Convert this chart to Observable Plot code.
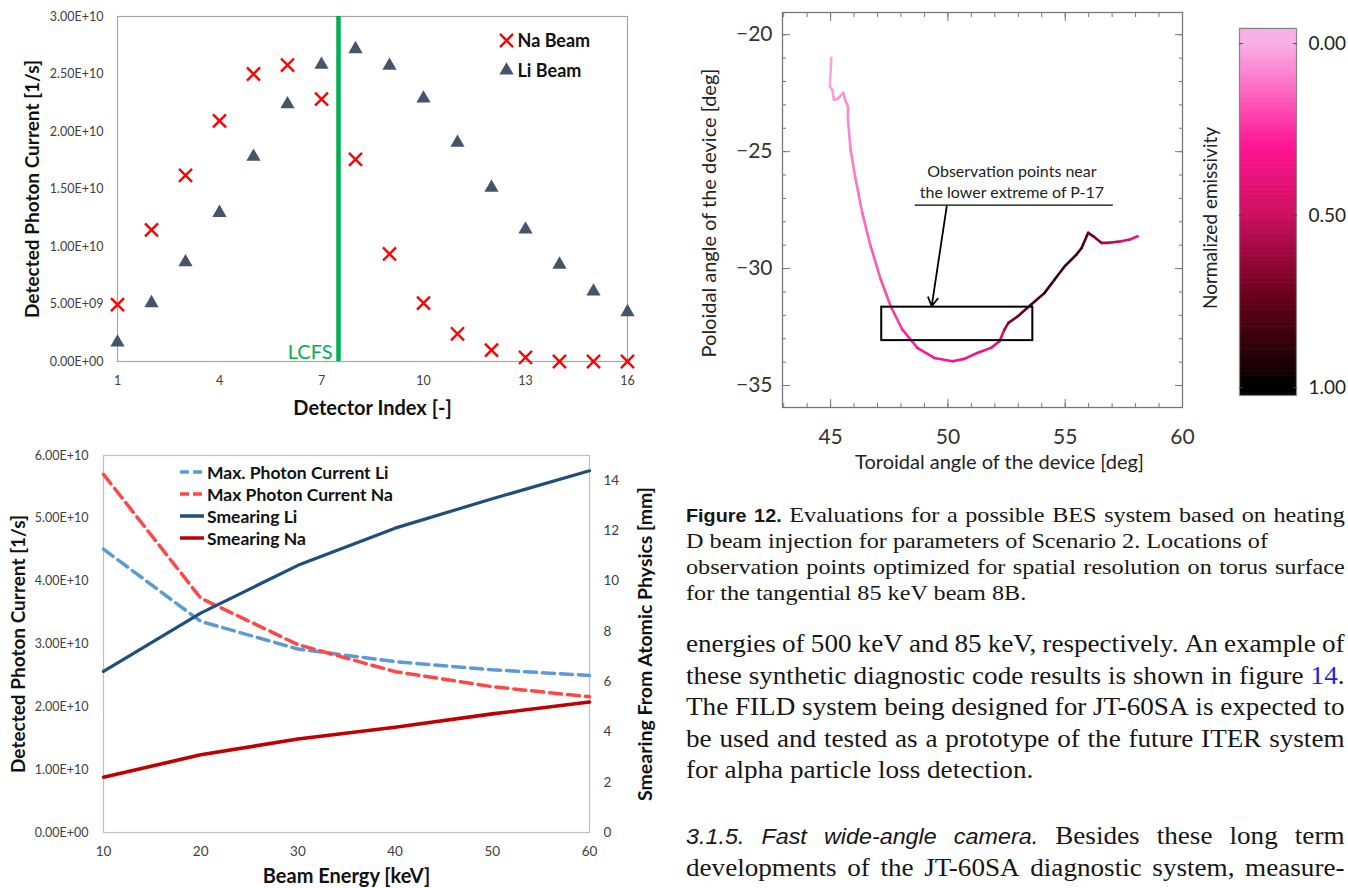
<!DOCTYPE html>
<html>
<head>
<meta charset="utf-8">
<script src="https://cdn.jsdelivr.net/npm/d3@7"></script>
<script src="https://cdn.jsdelivr.net/npm/@observablehq/plot@0.6"></script>
<style>
html,body{margin:0;padding:0;background:#fff;}
body{width:1348px;height:888px;position:relative;overflow:hidden;}
.pane{position:absolute;}
.pane svg{overflow:visible;}
.line{position:absolute;left:686px;white-space:nowrap;font-family:"Liberation Serif","Times New Roman",serif;color:#161616;transform-origin:0 50%;}
.line.j{display:flex;justify-content:space-between;}
.cap{font-size:22px;line-height:26px;height:26px;width:599px;transform:scaleX(1.1);}
.bod{font-size:25px;line-height:32px;height:32px;width:607px;transform:scaleX(1.085);}
.fig{font-family:"Liberation Sans",Arial,sans-serif;font-weight:bold;font-size:18px;}
.sec{font-family:"Liberation Sans",Arial,sans-serif;font-style:italic;font-size:21.5px;}
.ref{color:#1f1fe0;}
.lg{position:absolute;left:180px;height:22px;display:flex;align-items:center;font-family:Lato,sans-serif;font-weight:bold;font-size:17.5px;color:#111;}
.lg svg{margin-right:3px;}
</style>
</head>
<body>
<div id="c1" class="pane" style="left:0;top:0"></div>
<div id="c2" class="pane" style="left:0;top:440px"></div>
<div id="c3" class="pane" style="left:680px;top:0"></div>
<div id="c4" class="pane" style="left:1180px;top:0"></div>
<div id="legend2"></div>
<div id="text"></div>
<script>
// ---------- Chart 1: detected photon current per detector ----------
const detectorIndex = [1, 2, 3, 4, 5, 6, 7, 8, 9, 10, 11, 12, 13, 14, 15, 16];
const naBeam = [4.94e9, 11.45e9, 16.19e9, 20.92e9, 25.0e9, 25.78e9, 22.82e9, 17.58e9, 9.35e9, 5.08e9, 2.41e9, 0.99e9, 0.35e9, 0, 0, 0];
const liBeam = [1.66e9, 5.08e9, 8.63e9, 12.93e9, 17.81e9, 22.38e9, 25.81e9, 27.17e9, 25.72e9, 22.87e9, 19.03e9, 15.11e9, 11.48e9, 8.43e9, 6.10e9, 4.30e9];
const detectorTicks = [1, 4, 7, 10, 13, 16];
const photonTicks1 = [0, 5e9, 1e10, 1.5e10, 2e10, 2.5e10, 3e10];
const lcfsPosition = [7.5];
const beamLabels = ["Na Beam", "Li Beam"];

// ---------- Chart 2: beam energy scan ----------
const beamEnergy = [10, 20, 30, 40, 50, 60];
const maxCurrentLi = [4.51e10, 3.36e10, 2.92e10, 2.72e10, 2.59e10, 2.50e10];
const maxCurrentNa = [5.70e10, 3.73e10, 2.99e10, 2.56e10, 2.32e10, 2.16e10];
const smearingLi = [6.41, 8.73, 10.63, 12.11, 13.28, 14.39];
const smearingNa = [2.20, 3.09, 3.72, 4.19, 4.72, 5.19];
const photonTicks2 = [0, 1e10, 2e10, 3e10, 4e10, 5e10, 6e10];
const smearTicks = [0, 2, 4, 6, 8, 10, 12, 14];
const series2 = ["Max. Photon Current Li", "Max Photon Current Na", "Smearing Li", "Smearing Na"];

// ---------- Chart 3: observation points on torus surface ----------
const toroidal = [45.03, 44.97, 45.07, 45.14, 45.29, 45.54, 45.64, 45.74, 45.74, 45.85, 46.07, 46.35, 46.71, 47.14, 47.56, 48.06, 48.70, 49.42, 50.20, 50.70, 51.27, 51.84, 52.20, 52.41, 52.58, 52.98, 53.55, 54.12, 54.55, 54.98, 55.48, 55.70, 55.98, 56.20, 56.54, 56.83, 57.39, 57.75, 58.08];
const poloidal = [-20.99, -22.21, -22.35, -22.78, -22.75, -22.49, -22.85, -23.06, -23.63, -24.91, -26.20, -27.62, -29.05, -30.47, -31.61, -32.61, -33.39, -33.82, -33.96, -33.86, -33.60, -33.39, -33.11, -32.61, -32.32, -32.04, -31.54, -31.04, -30.47, -29.90, -29.40, -29.12, -28.47, -28.62, -28.90, -28.90, -28.83, -28.76, -28.62];
const emissivity = [0.02, 0.03, 0.04, 0.05, 0.05, 0.06, 0.07, 0.07, 0.08, 0.10, 0.12, 0.14, 0.17, 0.20, 0.23, 0.27, 0.30, 0.32, 0.34, 0.35, 0.37, 0.40, 0.45, 0.60, 0.70, 0.75, 0.80, 0.85, 0.88, 0.88, 0.85, 0.80, 0.72, 0.68, 0.60, 0.55, 0.45, 0.38, 0.30];
const toroidalTicks = [45, 50, 55, 60];
const poloidalTicks = [-35, -30, -25, -20];
const emissivityTicks = [0, 0.5, 1];
const noteText = ["Observation points near\nthe lower extreme of P-17"];
const noteAt = [{x: 52.73, y: -26.24}];
const noteUnderline = [{x1: 48.59, x2: 57.03, y: -27.29}];
const noteArrow = [{x1: 49.95, y1: -27.34, x2: 49.31, y2: -31.61}];
const obsBox = [{x1: 47.18, x2: 53.62, y1: -31.65, y2: -33.08}];

const emisColor = d3.scaleLinear()
  .domain([0, 0.3, 0.5, 0.75, 1])
  .range(["#f9b0e6", "#ff1493", "#cc0f5f", "#650018", "#000000"])
  .clamp(true);

const fmtE = v => {
  const [m, e] = d3.format(".2e")(v).split("e");
  const sign = e.startsWith("-") ? "-" : "+";
  return `${m}E${sign}${e.replace(/^[+-]/, "").padStart(2, "0")}`;
};
const minor = (a, b) => d3.range(a, b + 1e-9, 1);
const titleStyle = {textAnchor: "middle", lineAnchor: "middle", fill: "#111"};

// ---------- Chart 1 ----------
const c1 = Plot.plot({
  width: 660, height: 420,
  marginLeft: 117, marginRight: 33, marginTop: 16, marginBottom: 59,
  style: {fontFamily: "Lato, sans-serif", fontSize: "12.5px", color: "#404040", background: "transparent", overflow: "visible"},
  x: {domain: [1, 16]},
  y: {domain: [0, 3e10]},
  marks: [
    Plot.frame({stroke: "#a6a6a6", strokeWidth: 1.2}),
    Plot.axisX({ticks: detectorTicks, tickSize: 0, tickPadding: 15, tickFormat: d => String(d), fontSize: 12.5, label: null}),
    Plot.axisY({ticks: photonTicks1, tickSize: 0, tickPadding: 14, tickFormat: fmtE, fontSize: 12.5, label: null}),
    Plot.ruleX(lcfsPosition, {x: d => d, stroke: "#00b050", strokeWidth: 4.5}),
    Plot.text(lcfsPosition, {x: d => d, y: () => 0, text: () => "LCFS", textAnchor: "end", lineAnchor: "bottom", dx: -6, dy: -3, fill: "#00b050", fontSize: 20}),
    Plot.dot(detectorIndex, {x: d => d, y: (d, i) => liBeam[i], symbol: "triangle2", r: 6.8, fill: "#44546a"}),
    Plot.dot(detectorIndex, {x: d => d, y: (d, i) => naBeam[i], symbol: "times", r: 6, stroke: "#ff0000", strokeWidth: 2.4}),
    // legend
    Plot.dot([beamLabels[0]], {frameAnchor: "top-left", dx: 389, dy: 24, symbol: "times", r: 6, stroke: "#ff0000", strokeWidth: 2.4}),
    Plot.dot([beamLabels[1]], {frameAnchor: "top-left", dx: 389, dy: 54, symbol: "triangle2", r: 6.8, fill: "#44546a"}),
    Plot.text([beamLabels[0]], {frameAnchor: "top-left", dx: 400, dy: 25, text: d => d, textAnchor: "start", lineAnchor: "middle", fontWeight: "bold", fontSize: 18, fill: "#111"}),
    Plot.text([beamLabels[1]], {frameAnchor: "top-left", dx: 400, dy: 55, text: d => d, textAnchor: "start", lineAnchor: "middle", fontWeight: "bold", fontSize: 18, fill: "#111"}),
    // axis titles
    Plot.text(["Detector Index [-]"], {frameAnchor: "bottom", dy: 47, text: d => d, ...titleStyle, fontWeight: "bold", fontSize: 20}),
    Plot.text(["Detected Photon Current [1/s]"], {frameAnchor: "left", dx: -85, rotate: -90, text: d => d, ...titleStyle, fontWeight: "bold", fontSize: 19})
  ]
});
document.getElementById("c1").append(c1);

// ---------- Chart 2 ----------
const k2 = 6e10 / 15;
const c2 = Plot.plot({
  width: 660, height: 448,
  marginLeft: 103, marginRight: 71, marginTop: 15, marginBottom: 56,
  style: {fontFamily: "Lato, sans-serif", fontSize: "12.5px", color: "#404040", background: "transparent", overflow: "visible"},
  x: {domain: [10, 60]},
  y: {domain: [0, 6e10]},
  marks: [
    Plot.frame({stroke: "#bfbfbf", strokeWidth: 1.2}),
    Plot.axisX({ticks: beamEnergy, tickSize: 0, tickPadding: 14, tickFormat: d => String(d), fontSize: 13.5, label: null}),
    Plot.axisY({ticks: photonTicks2, tickSize: 0, tickPadding: 15, tickFormat: fmtE, fontSize: 12.5, label: null}),
    Plot.axisY({anchor: "right", ticks: smearTicks.map(v => v * k2), tickSize: 0, tickPadding: 14, tickFormat: d => String(Math.round(d / k2)), fontSize: 13.5, label: null}),
    Plot.lineY(beamEnergy, {x: d => d, y: (d, i) => maxCurrentLi[i], stroke: "#5b9bd5", strokeWidth: 3.5, strokeDasharray: "12,6"}),
    Plot.lineY(beamEnergy, {x: d => d, y: (d, i) => maxCurrentNa[i], stroke: "#ff4747", strokeWidth: 3.5, strokeDasharray: "12,6"}),
    Plot.lineY(beamEnergy, {x: d => d, y: (d, i) => smearingLi[i] * k2, stroke: "#1f4e79", strokeWidth: 3.2}),
    Plot.lineY(beamEnergy, {x: d => d, y: (d, i) => smearingNa[i] * k2, stroke: "#c00000", strokeWidth: 3.6}),
    Plot.text(["Beam Energy [keV]"], {frameAnchor: "bottom", dy: 44, text: d => d, ...titleStyle, fontWeight: "bold", fontSize: 20}),
    Plot.text(["Detected Photon Current [1/s]"], {frameAnchor: "left", dx: -85, rotate: -90, text: d => d, ...titleStyle, fontWeight: "bold", fontSize: 19}),
    Plot.text(["Smearing From Atomic Physics [mm]"], {frameAnchor: "right", dx: 56, rotate: -90, text: d => d, ...titleStyle, fontWeight: "bold", fontSize: 19.5})
  ]
});
document.getElementById("c2").append(c2);

// legend for chart 2
const lgStyles = [
  {color: "#5b9bd5", dash: "9,4"}, {color: "#ff4747", dash: "9,4"},
  {color: "#1f4e79", dash: null}, {color: "#c00000", dash: null}
];
const lgTops = [461, 483, 505, 527];
series2.forEach((name, i) => {
  const d = document.createElement("div");
  d.className = "lg";
  d.style.top = lgTops[i] + "px";
  const s = lgStyles[i];
  d.innerHTML = `<svg width="24" height="8"><line x1="0" y1="4" x2="24" y2="4" stroke="${s.color}" stroke-width="3.5" ${s.dash ? `stroke-dasharray="${s.dash}"` : ""}/></svg><span>${name}</span>`;
  document.getElementById("legend2").append(d);
});

// ---------- Chart 3 ----------
const curve = toroidal.map((x, i) => ({x, y: poloidal[i], e: emissivity[i]}));
const axisFont = {fontSize: 21, fill: "#333"};
const c3 = Plot.plot({
  width: 668, height: 480,
  marginLeft: 102, marginRight: 166, marginTop: 12, marginBottom: 73,
  style: {fontFamily: "Lato, sans-serif", fontSize: "21px", color: "#333", background: "transparent", overflow: "visible"},
  x: {domain: [42.95, 60]},
  y: {domain: [-35.94, -19.05]},
  marks: [
    Plot.frame({stroke: "#777", strokeWidth: 1.3}),
    Plot.axisY({anchor: "left", ticks: minor(-35, -20), tickSize: -4, tickFormat: () => "", label: null, stroke: "#777"}),
    Plot.axisY({anchor: "right", ticks: minor(-35, -20), tickSize: -4, tickFormat: () => "", label: null, stroke: "#777"}),
    Plot.axisX({anchor: "bottom", ticks: minor(43, 60), tickSize: -4, tickFormat: () => "", label: null, stroke: "#777"}),
    Plot.axisX({anchor: "top", ticks: minor(43, 60), tickSize: -4, tickFormat: () => "", label: null, stroke: "#777"}),
    Plot.axisY({anchor: "left", ticks: poloidalTicks, tickSize: -8, tickPadding: 18, tickFormat: d => "\u2212" + Math.abs(d), label: null, stroke: "#777", ...axisFont}),
    Plot.axisY({anchor: "right", ticks: poloidalTicks, tickSize: -8, tickFormat: () => "", label: null, stroke: "#777"}),
    Plot.axisX({anchor: "bottom", ticks: toroidalTicks, tickSize: -8, tickPadding: 30, tickFormat: d => String(d), label: null, stroke: "#777", ...axisFont}),
    Plot.axisX({anchor: "top", ticks: toroidalTicks, tickSize: -8, tickFormat: () => "", label: null, stroke: "#777"}),
    Plot.line(curve, {x: "x", y: "y", z: null, stroke: d => emisColor(d.e), strokeWidth: 2.6}),
    Plot.rect(obsBox, {x1: "x1", x2: "x2", y1: "y1", y2: "y2", fill: "none", stroke: "#000", strokeWidth: 2}),
    Plot.link(noteUnderline, {x1: "x1", x2: "x2", y1: "y", y2: "y", stroke: "#000", strokeWidth: 1.2}),
    Plot.arrow(noteArrow, {x1: "x1", y1: "y1", x2: "x2", y2: "y2", stroke: "#000", strokeWidth: 1.8, headLength: 8, bend: 0}),
    Plot.text(noteAt, {x: "x", y: "y", text: (d, i) => noteText[i], lineHeight: 1.35, fontSize: 16, fill: "#222"}),
    Plot.text(["Toroidal angle of the device [deg]"], {frameAnchor: "bottom", dy: 55, dx: 17, text: d => d, ...titleStyle, fill: "#222", fontSize: 20}),
    Plot.text(["Poloidal angle of the device [deg]"], {frameAnchor: "left", dx: -73, dy: 3, rotate: -90, text: d => d, ...titleStyle, fill: "#222", fontSize: 20})
  ]
});
document.getElementById("c3").append(c3);

// ---------- Colour bar ----------
const ramp = d3.range(0, 150).map(i => {
  const lo = -0.044 + i * (1.067 / 150), hi = lo + 1.067 / 150;
  return {lo, hi, mid: (lo + hi) / 2};
});
const c4 = Plot.plot({
  width: 168, height: 480,
  marginLeft: 59, marginRight: 52, marginTop: 28, marginBottom: 85,
  style: {fontFamily: "Lato, sans-serif", fontSize: "19px", color: "#222", background: "transparent", overflow: "visible"},
  x: {domain: [0, 1], axis: null},
  y: {domain: [-0.044, 1.023], reverse: true},
  marks: [
    Plot.rect(ramp, {x1: () => 0, x2: () => 1, y1: "lo", y2: "hi", fill: d => emisColor(d.mid), inset: 0, insetTop: -0.3, insetBottom: -0.3}),
    Plot.frame({stroke: "#888", strokeWidth: 1.2}),
    Plot.axisY({anchor: "left", ticks: emissivityTicks, tickSize: -4, tickFormat: () => "", label: null, stroke: "#444"}),
    Plot.axisY({anchor: "right", ticks: emissivityTicks, tickSize: -4, tickPadding: 16, tickFormat: d3.format(".2f"), label: null, stroke: "#444", fontSize: 19, fill: "#222"}),
    Plot.text(["Normalized emissivity"], {frameAnchor: "left", dx: -29, dy: 6, rotate: -90, text: d => d, ...titleStyle, fill: "#222", fontSize: 19})
  ]
});
document.getElementById("c4").append(c4);

// ---------- Caption and body text ----------
const textLines = [
  {top: 502, cls: "cap", j: true, segs: [["fig", "Figure 12."], ["", "Evaluations for a possible BES system based on heating"]]},
  {top: 528, cls: "cap", j: false, segs: [["", "D beam injection for parameters of Scenario 2. Locations of"]]},
  {top: 554, cls: "cap", j: true, segs: [["", "observation points optimized for spatial resolution on torus surface"]]},
  {top: 580, cls: "cap", j: false, segs: [["", "for the tangential 85 keV beam 8B."]]},
  {top: 628, cls: "bod", j: true, segs: [["", "energies of 500 keV and 85 keV, respectively. An example of"]]},
  {top: 660, cls: "bod", j: true, segs: [["", "these synthetic diagnostic code results is shown in figure"], ["ref", "14"], ["", "."]]},
  {top: 691, cls: "bod", j: true, segs: [["", "The FILD system being designed for JT-60SA is expected to"]]},
  {top: 723, cls: "bod", j: true, segs: [["", "be used and tested as a prototype of the future ITER system"]]},
  {top: 754, cls: "bod", j: false, segs: [["", "for alpha particle loss detection."]]},
  {top: 820, cls: "bod", j: true, segs: [["sec", "3.1.5. Fast wide-angle camera."], ["", "Besides these long term"]]},
  {top: 852, cls: "bod", j: true, segs: [["", "developments of the JT-60SA diagnostic system, measure-"]]}
];
const host = document.getElementById("text");
textLines.forEach(L => {
  const div = document.createElement("div");
  div.className = `line ${L.cls}` + (L.j ? " j" : "");
  div.style.top = L.top + "px";
  if (L.j) {
    const words = [];
    L.segs.forEach(([c, t]) => {
      t.split(" ").forEach(w => {
        const span = `<span class="${c}">${w}</span>`;
        if (t === "." && words.length) words[words.length - 1] += span;
        else words.push(span);
      });
    });
    div.innerHTML = words.map(w => `<span>${w}</span>`).join("");
  } else {
    div.innerHTML = L.segs.map(([c, t]) => `<span class="${c}">${t}</span>`).join(" ");
  }
  host.append(div);
});
</script>
</body>
</html>
